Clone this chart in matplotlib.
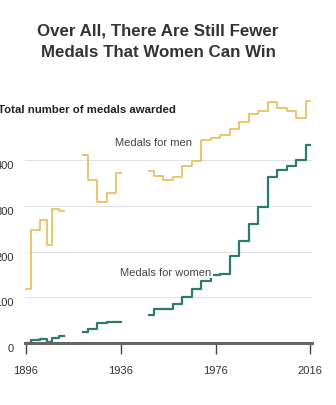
import numpy as np
import matplotlib
matplotlib.use("Agg")
import matplotlib.pyplot as plt
import matplotlib.transforms as mtransforms

plt.rcParams['font.family'] = ['Liberation Sans Narrow', 'Liberation Sans', 'DejaVu Sans']

# medals awarded per games (gaps = no games)
men_segments = [
    ([1896, 1900, 1904, 1906, 1908, 1912], [118, 246, 268, 214, 293, 288]),
    ([1920, 1924, 1928, 1932, 1936], [412, 356, 308, 327, 372]),
    ([1948, 1952, 1956, 1960, 1964, 1968, 1972, 1976, 1980, 1984, 1988,
      1992, 1996, 2000, 2004, 2008, 2012, 2016],
     [375, 365, 357, 363, 387, 397, 443, 448, 454, 468, 483,
      500, 507, 527, 514, 508, 492, 528]),
]
women_segments = [
    ([1896, 1900, 1904, 1906, 1908, 1912], [0, 7, 8, 3, 12, 16]),
    ([1920, 1924, 1928, 1932, 1936], [25, 30, 44, 45, 47]),
    ([1948, 1952, 1956, 1960, 1964, 1968, 1972, 1976, 1980, 1984, 1988,
      1992, 1996, 2000, 2004, 2008, 2012, 2016],
     [61, 74, 75, 85, 100, 117, 136, 149, 150, 191, 222,
      260, 297, 363, 379, 387, 401, 433]),
]
yticks = [0, 100, 200, 300, 400]
xticks = [1896, 1936, 1976, 2016]

men_color = '#e9c062'
women_color = '#2d7b6d'
sans = ['Liberation Sans', 'DejaVu Sans']

fig = plt.figure(figsize=(3.36, 4.06), dpi=100)
ax = fig.add_axes([25/336, (406-344)/406, (312-25)/336, (344-97)/406])
ax.set_xlim(1895.6, 2016.7)
ax.set_ylim(0, 540)

for xs, ys in men_segments:
    ax.step(xs, ys, where='mid', color=men_color, lw=1.3, zorder=3)
for xs, ys in women_segments:
    ax.step(xs, ys, where='mid', color=women_color, lw=1.6, zorder=3)

# grid + baseline
for v in yticks[1:]:
    ax.axhline(v, color='#e2e2e2', lw=0.8, zorder=1)
ax.axhline(0, color='#666666', lw=2.2, zorder=4, clip_on=False)

for s in ax.spines.values():
    s.set_visible(False)

ax.set_yticks(yticks)
ax.set_yticklabels([str(v) for v in yticks])
ax.tick_params(axis='y', length=0, pad=8, labelsize=8, labelcolor='#333333')
off = mtransforms.ScaledTranslation(0, -4/100, fig.dpi_scale_trans)
for lbl in ax.get_yticklabels():
    lbl.set_transform(lbl.get_transform() + off)
    lbl.set_fontfamily(sans)

ax.set_xticks(xticks)
ax.set_xticklabels([str(v) for v in xticks])
ax.tick_params(axis='x', length=8, width=1, color='#444444', pad=8,
               labelsize=8, labelcolor='#333333', direction='out')
for lbl in ax.get_xticklabels():
    lbl.set_fontfamily(sans)

# labels
ax.text(1933.6, 440, 'Medals for men', fontsize=8, color='#444444',
        ha='left', va='center', family=sans)
ax.text(1974.3, 156, 'Medals for women', fontsize=8, color='#444444',
        ha='right', va='center', family=sans,
        bbox=dict(facecolor='white', edgecolor='none', pad=1), zorder=5)

fig.text(-2/336, 1 - 110/406, 'Total number of medals awarded', fontsize=8.2,
         fontweight='bold', color='#222222', ha='left', va='center',
         family=sans)

fig.text(158/336, 1 - 42/406, 'Over All, There Are Still Fewer\nMedals That Women Can Win',
         fontsize=12.2, fontweight='bold', color='#333333', ha='center', va='center',
         linespacing=1.5)

fig.savefig('out.png', dpi=100)
